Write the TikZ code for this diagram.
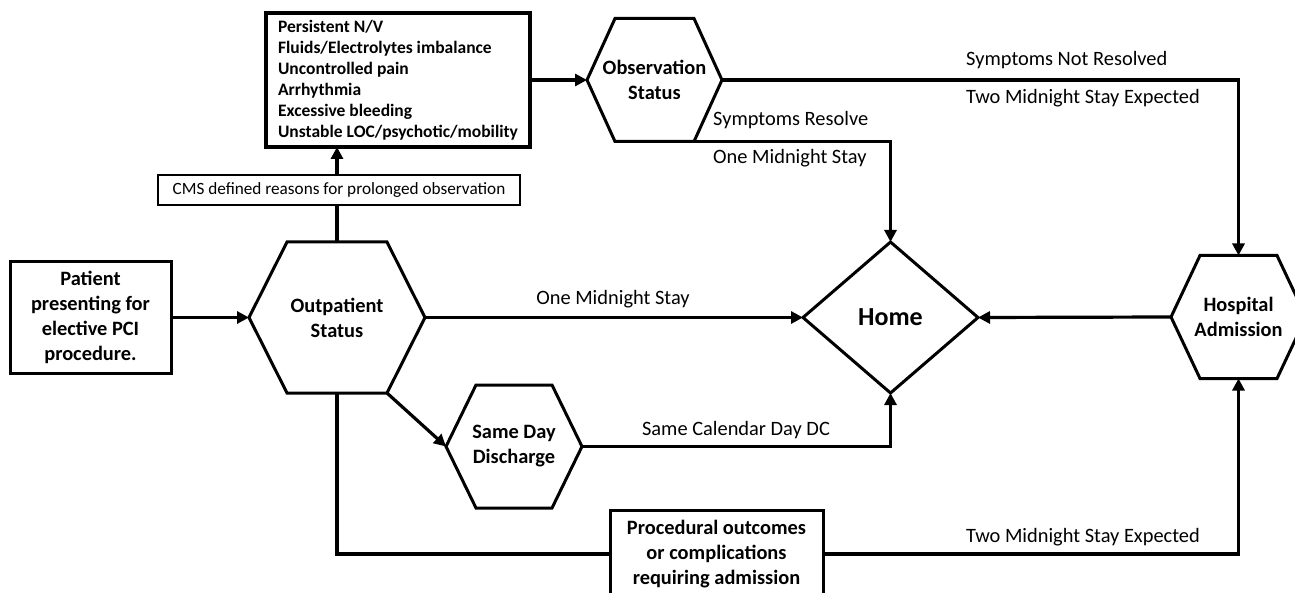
\documentclass[tikz,border=0pt]{standalone}
\usepackage{fontspec}
\setmainfont{Carlito}
\usetikzlibrary{arrows.meta}
\newcommand\ndfont{\fontsize{20.4}{25}\selectfont\bfseries}
\newcommand\lblfont{\fontsize{20.4}{25}\selectfont}
\newcommand\listfont{\fontsize{17.5}{21}\selectfont\bfseries}
\newcommand\cmsfont{\fontsize{17.2}{20}\selectfont}
\newcommand\homefont{\fontsize{26}{30}\selectfont\bfseries}
\newcommand\drawhexagon[2]{\draw[shapeline] (#1.west) -- ([xshift=#2]#1.north west) -- ([xshift=-#2]#1.north east) -- (#1.east) -- ([xshift=-#2]#1.south east) -- ([xshift=#2]#1.south west) -- cycle;}
\tikzset{
  conn/.style={line width=3.2pt, line join=miter},
  arr/.style={conn, -{Triangle[length=12pt,width=12pt]}},
  shapeline/.style={line width=3pt, line join=miter},
  hexbody/.style={draw=none, inner sep=0pt, outer sep=0pt, align=center, font=\ndfont},
  boxnode/.style={draw, line width=3pt, inner sep=0pt, outer sep=0pt, align=center, font=\ndfont},
  listbox/.style={draw, line width=3.2pt, inner sep=0pt, outer sep=0pt, align=left, font=\listfont},
  cmsbox/.style={draw, line width=1.2pt, inner sep=0pt, outer sep=0pt, align=center, font=\cmsfont, fill=white},
  lbl/.style={inner sep=0pt, font=\lblfont},
}
\begin{document}
\begin{tikzpicture}[x=1pt, y=-1pt]
\useasboundingbox (0,0) rectangle (1295,593);
% nodes
\node[boxnode, minimum width=161pt, minimum height=112pt] (pat) at (90.5,317.5) {Patient\\presenting for\\elective PCI\\procedure.};
\node[hexbody, minimum width=176pt, minimum height=151pt] (out) at (337,317.5) {Outpatient\\Status};
\drawhexagon{out}{38pt}
\node[listbox, minimum width=264pt, minimum height=134pt] (list) at (398,80) {Persistent N/V\\Fluids/Electrolytes imbalance\\Uncontrolled pain\\Arrhythmia\\Excessive bleeding\\Unstable LOC/psychotic/mobility};
\node[cmsbox, minimum width=362pt, minimum height=30pt] (cms) at (339,190) {CMS defined reasons for prolonged observation};
\node[hexbody, minimum width=135pt, minimum height=123pt] (obs) at (654.5,80) {Observation\\Status};
\drawhexagon{obs}{28pt}
\node[hexbody, minimum width=175pt, minimum height=151pt, font=\homefont] (home) at (890.5,317.5) {Home};
\draw[shapeline] (home.west) -- (home.north) -- (home.east) -- (home.south) -- cycle;
\node[hexbody, minimum width=135pt, minimum height=123pt] (hosp) at (1238.5,317) {Hospital\\Admission};
\drawhexagon{hosp}{29pt}
\node[hexbody, minimum width=136pt, minimum height=123pt] (sd) at (514,446.5) {Same Day\\Discharge};
\drawhexagon{sd}{30pt}
\node[boxnode, minimum width=213pt, minimum height=88pt] (proc) at (716.5,554) {Procedural outcomes\\or complications\\requiring admission};
% connectors
\draw[arr] (pat.east) -- (out.west);
\draw[conn] (out.north) -- (out.north |- cms.south);
\draw[arr] (out.north |- cms.north) -- (out.north |- list.south);
\draw[arr] (list.east) -- (obs.west);
\draw[arr] (obs.east) -| (hosp.north);
\draw[arr] ([xshift=-28pt]obs.south east) -| (home.north);
\draw[arr] (out.east) -- (home.west);
\draw[arr] ([xshift=-38pt]out.south east) -- (sd.west);
\draw[arr] (sd.east) -| (home.south);
\draw[conn] (out.south) |- (proc.west);
\draw[arr] (proc.east) -| (hosp.south);
\draw[arr] (hosp.west) -- (home.east);
% labels
\node[lbl, anchor=west] (l1) at (966,60) {Symptoms Not Resolved};
\node[lbl, anchor=west] (l2) at (966,98) {Two Midnight Stay Expected};
\node[lbl, anchor=west] (l3) at (713,120) {Symptoms Resolve};
\node[lbl, anchor=west] (l4) at (713,158) {One Midnight Stay};
\node[lbl] (l5) at (613,299) {One Midnight Stay};
\node[lbl] (l6) at (736,430) {Same Calendar Day DC};
\node[lbl, anchor=west] (l7) at (966,537) {Two Midnight Stay Expected};
\end{tikzpicture}
\end{document}
